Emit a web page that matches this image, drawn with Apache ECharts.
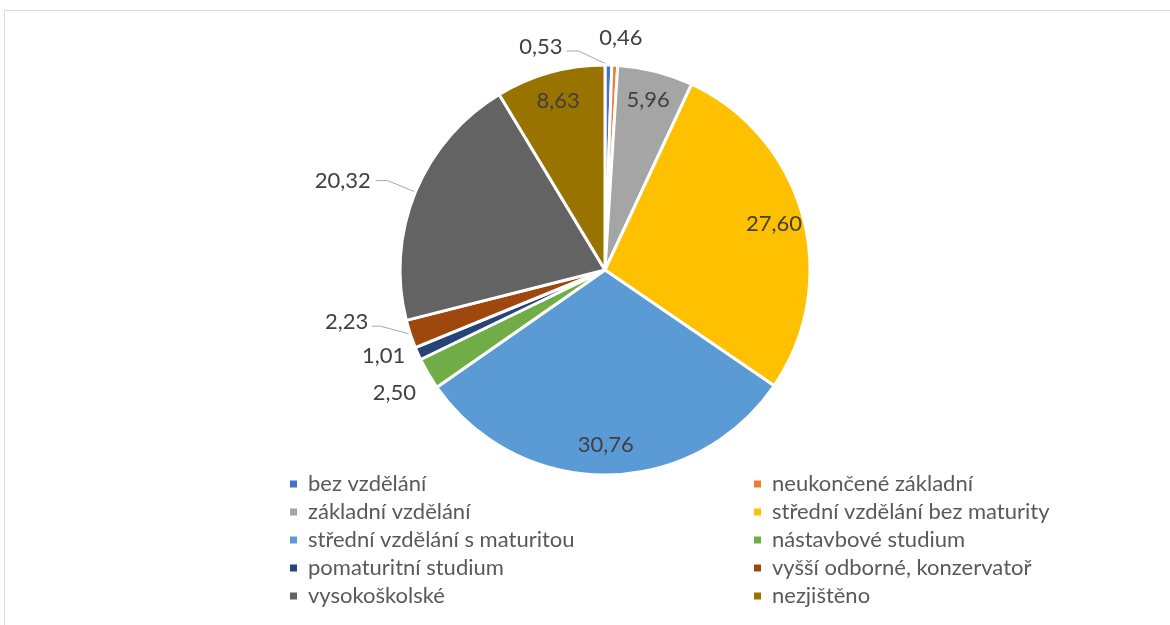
<!DOCTYPE html>
<html lang="cs">
<head>
<meta charset="UTF-8">
<title>Vzdělání</title>
<script src="https://cdn.jsdelivr.net/npm/echarts@6/dist/echarts.min.js"></script>
<style>
  html, body { margin: 0; padding: 0; background: #fff; }
  #chart { width: 1170px; height: 625px; }
</style>
</head>
<body>
<div id="chart"></div>
<script>
var categories = ['bez vzdělání', 'neukončené základní', 'základní vzdělání', 'střední vzdělání bez maturity',
  'střední vzdělání s maturitou', 'nástavbové studium', 'pomaturitní studium', 'vyšší odborné, konzervatoř',
  'vysokoškolské', 'nezjištěno'];
var values = [0.53, 0.46, 5.96, 27.60, 30.76, 2.50, 1.01, 2.23, 20.32, 8.63];
var colors = ['#4472C4', '#ED7D31', '#A5A5A5', '#FFC000', '#5B9BD5', '#70AD47', '#264478', '#9E480E', '#636363', '#997300'];

var cx = 605, cy = 270, R = 205;
var font = 'Lato, "Open Sans", sans-serif';
// labels drawn inside the slice (the rest sit outside)
var insideIdx = [2, 3, 4, 9];
// outside labels that sit right next to the slice, without a leader line
var closeIdx = [5, 6];

var pieData = categories.map(function (name, i) {
  var inside = insideIdx.indexOf(i) >= 0;
  var close = closeIdx.indexOf(i) >= 0;
  return {
    name: name,
    value: values[i],
    itemStyle: { color: colors[i] },
    label: { position: inside ? 'inside' : 'outside' },
    labelLine: close ? { show: false, length: 6, length2: 2 } : { show: !inside }
  };
});

var legendText = { fontFamily: font, fontSize: 22, color: '#595959', lineHeight: 28, padding: [0, 0, 0, 6] };

// leader line bent like Excel: from slice edge s, up-left, then a short flat run
function leftLeader(s, up, run, flat) {
  return {
    x: s[0] - run - flat - 4, y: s[1] - up - 4, align: 'right', verticalAlign: 'middle',
    labelLinePoints: [[s[0], s[1]], [s[0] - run, s[1] - up], [s[0] - run - flat, s[1] - up]]
  };
}

var chart = echarts.init(document.getElementById('chart'), null, { renderer: 'canvas' });

var option = {
  animation: false,
  graphic: [{
    type: 'rect',
    shape: { x: 4.5, y: 10.5, width: 1200, height: 700 },
    style: { fill: 'none', stroke: '#d9d9d9', lineWidth: 1 },
    silent: true
  }],
  legend: [{
    orient: 'vertical',
    left: 290, top: 470, padding: 0,
    itemWidth: 7, itemHeight: 7, itemGap: 0,
    icon: 'rect',
    itemStyle: { borderWidth: 0 },
    data: categories.filter(function (c, i) { return i % 2 === 0; }),
    textStyle: legendText
  }, {
    orient: 'vertical',
    left: 754, top: 470, padding: 0,
    itemWidth: 7, itemHeight: 7, itemGap: 0,
    icon: 'rect',
    itemStyle: { borderWidth: 0 },
    data: categories.filter(function (c, i) { return i % 2 === 1; }),
    textStyle: legendText
  }],
  series: [{
    type: 'pie',
    center: [cx, cy],
    radius: [0, R],
    startAngle: 90,
    clockwise: true,
    avoidLabelOverlap: false,
    itemStyle: { borderColor: '#fff', borderWidth: 3 },
    label: {
      fontFamily: font,
      fontSize: 22,
      color: '#404040',
      formatter: function (p) { return p.value.toFixed(2).replace('.', ','); }
    },
    labelLine: {
      length: 30,
      length2: 12,
      lineStyle: { color: '#a6a6a6', width: 1 }
    },
    emphasis: { disabled: true },
    data: pieData,
    labelLayout: function (p) {
      var pts = p.labelLinePoints;
      if (p.dataIndex === 0 && pts) {
        // tiny first slice: Excel swings its label to the left of the top
        return leftLeader(pts[0], 14, 30, 12);
      }
      if (p.dataIndex === 7 && pts) {
        return leftLeader(pts[0], 8, 30, 8);
      }
      if (p.dataIndex === 1 && pts) {
        var t = pts[0];
        return {
          x: t[0] + 6, y: t[1] - 27, align: 'center', verticalAlign: 'middle',
          labelLinePoints: [[t[0], t[1]], [t[0], t[1]], [t[0], t[1]]]
        };
      }
      if (p.dataIndex === 5) return { dy: 16 };
      if (insideIdx.indexOf(p.dataIndex) < 0) return {};
      var lx = p.labelRect.x + p.labelRect.width / 2;
      var ly = p.labelRect.y + p.labelRect.height / 2;
      // push inside labels out toward the rim, like Excel does
      return { dx: (lx - cx) * 0.66, dy: (ly - cy) * 0.66 };
    }
  }]
};

chart.setOption(option);
</script>
</body>
</html>
